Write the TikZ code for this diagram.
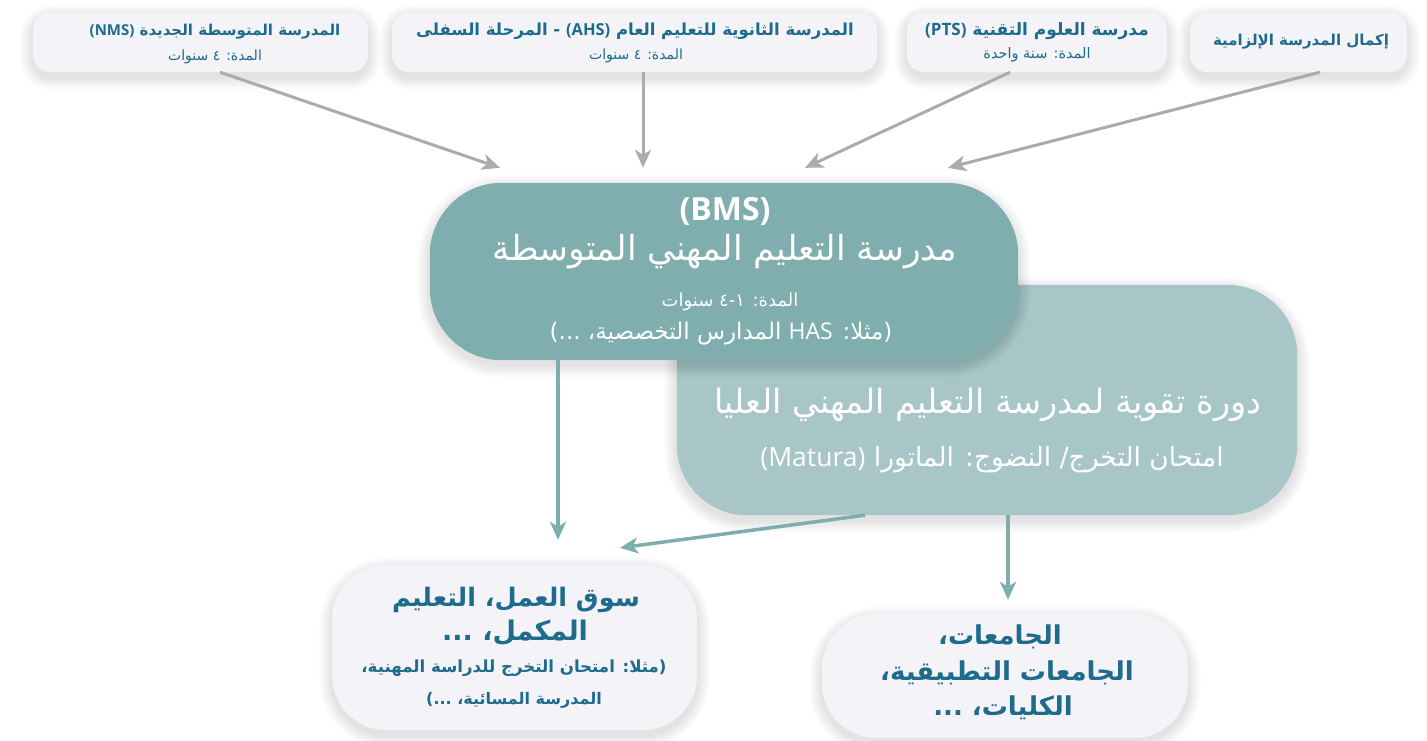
\documentclass[tikz,border=0pt]{standalone}
\usepackage{fontspec}
\TeXXeTstate=1
\newfontfamily\arabicfont[Script=Arabic]{DejaVu Sans}
\newfontfamily\plainfont{DejaVu Sans}
\newfontfamily\latinfont{Open Sans}
\usetikzlibrary{arrows.meta}

\definecolor{boxfill}{HTML}{F3F3F8}
\definecolor{textblue}{HTML}{1E6B8C}
\definecolor{bmsfill}{HTML}{80ADAD}
\definecolor{coursefill}{HTML}{A8C5C7}
\definecolor{grayline}{HTML}{ABABAB}
\definecolor{tealline}{HTML}{7DAEAE}

% right-to-left Arabic run, and a left-to-right Latin run inside it
\newcommand\artext[1]{{\arabicfont\beginR #1\endR}}
\newcommand\lat[1]{\beginL{\latinfont #1}\endL}
\newcommand\lp{{\plainfont(}}
\newcommand\rp{{\plainfont)}}
% soft halo under a box: stacked faint rounded rectangles, shifted down
\newcommand\halo[2]{%
  \foreach \k in {1,...,14}{%
    \fill[black,opacity=0.0065,rounded corners={#2+\k*0.9pt}]
      ([shift={(-\k*0.9,-\k*0.9+5)}]#1.north west) rectangle
      ([shift={(\k*0.9,\k*0.9+5)}]#1.south east);}}

\begin{document}
\begin{tikzpicture}[x=1pt,y=-1pt,
  frame/.style={draw=none,fill=none,inner sep=0pt},
  txt/.style={inner sep=0pt,text=textblue},
  wtxt/.style={inner sep=0pt,text=white},
  grayarrow/.style={draw=grayline,line width=3pt,
      -{Stealth[length=18pt,width=16pt,inset=5pt]}},
  tealarrow/.style={draw=tealline,line width=3.5pt,
      -{Stealth[length=18pt,width=16pt,inset=5pt]}}]
\useasboundingbox (0,0) rectangle (1427,740);

% ---- box frames (named) used for halos, fills and connectors
\path
  node[frame,minimum width=335pt,minimum height=59pt] (nms) at (200.5,42.5) {}
  node[frame,minimum width=485pt,minimum height=59pt] (ahs) at (634.5,42.5) {}
  node[frame,minimum width=260pt,minimum height=59pt] (pts) at (1037,42.5) {}
  node[frame,minimum width=217pt,minimum height=59pt] (mand) at (1298.5,42.5) {}
  node[frame,minimum width=620pt,minimum height=230pt] (course) at (987,400) {}
  node[frame,minimum width=588pt,minimum height=177pt] (bms) at (724,271.5) {}
  node[frame,minimum width=365pt,minimum height=165pt] (labor) at (514.5,647.5) {}
  node[frame,minimum width=366pt,minimum height=124pt] (uni) at (1005,676) {};

% ---- entry schools (top row)
\foreach \b in {nms,ahs,pts,mand}{\halo{\b}{18pt}}
\foreach \b in {nms,ahs,pts,mand}{
  \fill[boxfill,rounded corners=18pt] (\b.north west) rectangle (\b.south east);}

\node[txt,font=\fontsize{15}{18}\bfseries] (nmsA) at (215,32) {\artext{المدرسة المتوسطة الجديدة \lat{(NMS)}}};
\node[txt,font=\fontsize{14}{17}\selectfont] (nmsB) at (215,57) {\artext{المدة: ٤ سنوات}};
\node[txt,font=\fontsize{16.5}{19}\bfseries] (ahsA) at (635,31) {\artext{المدرسة الثانوية للتعليم العام \lat{(AHS)} - المرحلة السفلى}};
\node[txt,font=\fontsize{14}{17}\selectfont] (ahsB) at (636,56) {\artext{المدة: ٤ سنوات}};
\node[txt,font=\fontsize{17}{20}\bfseries] (ptsA) at (1037,31) {\artext{مدرسة العلوم التقنية \lat{(PTS)}}};
\node[txt,font=\fontsize{14.5}{17}\selectfont] (ptsB) at (1037,55) {\artext{المدة: سنة واحدة}};
\node[txt,font=\fontsize{15}{18}\bfseries] (mandA) at (1301,42) {\artext{إكمال المدرسة الإلزامية}};

% ---- upper vocational course (behind) and BMS (front)
\halo{course}{70pt}
\fill[coursefill,rounded corners=70pt] (course.north west) rectangle (course.south east);
\halo{bms}{72pt}
\fill[bmsfill,rounded corners=72pt] (bms.north west) rectangle (bms.south east);

\node[wtxt,font=\fontsize{32}{36}\selectfont] (bmsA) at (725,211) {\latinfont\bfseries (BMS)};
\node[wtxt,font=\fontsize{34.5}{40}\selectfont] (bmsB) at (725,252) {\artext{مدرسة التعليم المهني المتوسطة}};
\node[wtxt,font=\fontsize{18}{21}\selectfont] (bmsC) at (730,302) {\artext{المدة: ١-٤ سنوات}};
\node[wtxt,font=\fontsize{23}{27}\selectfont] (bmsD) at (721,334) {\lp\artext{مثلا: \lat{HAS} المدارس التخصصية، ...}\rp};

\node[wtxt,font=\fontsize{33.5}{39}\selectfont] (courseA) at (988,405) {\artext{دورة تقوية لمدرسة التعليم المهني العليا}};
\node[wtxt,font=\fontsize{26.5}{31}\selectfont] (courseB) at (992,460) {\artext{امتحان التخرج/ النضوج: الماتورا \lat{(Matura)}}};

% ---- destinations (bottom row)
\foreach \b in {labor,uni}{\halo{\b}{55pt}}
\foreach \b in {labor,uni}{
  \fill[boxfill,rounded corners=55pt] (\b.north west) rectangle (\b.south east);}

\node[txt,font=\fontsize{25.5}{30}\bfseries] (laborA) at (516,600) {\artext{سوق العمل، التعليم}};
\node[txt,font=\fontsize{27}{32}\bfseries] (laborB) at (515,633) {\artext{المكمل، ...}};
\node[txt,font=\fontsize{16.6}{19}\bfseries] (laborC) at (514,668) {\artext{مثلا: امتحان التخرج للدراسة المهنية،}\rp};
\node[txt,font=\fontsize{16}{19}\bfseries] (laborD) at (514,700) {\lp\artext{المدرسة المسائية، ...}};

\node[txt,font=\fontsize{26}{30}\bfseries] (uniA) at (1000,637) {\artext{الجامعات،}};
\node[txt,font=\fontsize{26}{30}\bfseries] (uniB) at (1007,673) {\artext{الجامعات التطبيقية،}};
\node[txt,font=\fontsize{26}{30}\bfseries] (uniC) at (1003,708) {\artext{الكليات، ...}};

% ---- connectors
\draw[grayarrow] ([xshift=19.5pt]nms.south) -- ([xshift=-224pt,yshift=15pt]bms.north);
\draw[grayarrow] ([xshift=8.5pt]ahs.south) -- ([xshift=-81pt,yshift=15pt]bms.north);
\draw[grayarrow] ([xshift=-27pt]pts.south) -- ([xshift=81pt,yshift=15pt]bms.north);
\draw[grayarrow] ([xshift=21.5pt]mand.south) -- ([xshift=224pt,yshift=15pt]bms.north);

\draw[tealarrow] ([xshift=-166pt]bms.south) -- ([xshift=43.5pt,yshift=25pt]labor.north);
\draw[tealarrow] ([xshift=-122pt]course.south) -- ([xshift=105.5pt,yshift=17pt]labor.north);
\draw[tealarrow] ([xshift=21pt]course.south) -- ([xshift=3pt,yshift=14pt]uni.north);
\end{tikzpicture}
\end{document}
